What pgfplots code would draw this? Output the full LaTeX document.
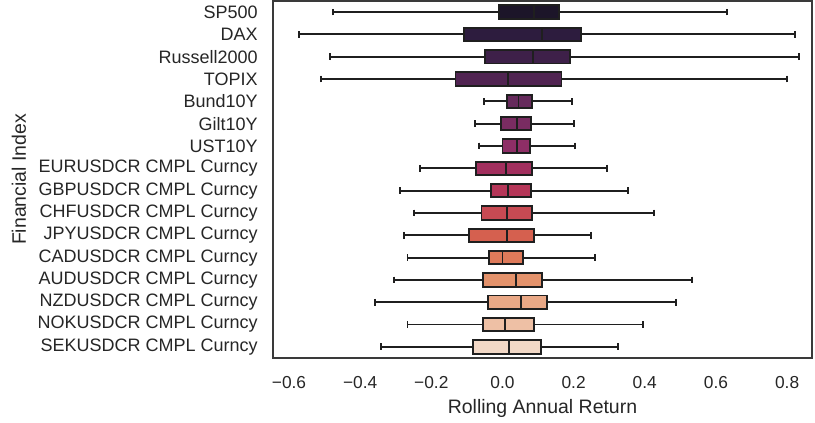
\documentclass[border=0pt]{standalone}
\usepackage{pgfplots}
\pgfplotsset{compat=1.18}
\usepgfplotslibrary{statistics}
\usepackage{fontspec}
\setmainfont{Liberation Sans}
\definecolor{txt}{HTML}{262626}
\definecolor{spine}{HTML}{3a3a3a}
\definecolor{c0}{HTML}{1c1529}
\definecolor{c1}{HTML}{2d1c3e}
\definecolor{c2}{HTML}{3e2049}
\definecolor{c3}{HTML}{512452}
\definecolor{c4}{HTML}{662a5c}
\definecolor{c5}{HTML}{7a2c62}
\definecolor{c6}{HTML}{8e2e66}
\definecolor{c7}{HTML}{a22f5e}
\definecolor{c8}{HTML}{b53658}
\definecolor{c9}{HTML}{c74a53}
\definecolor{c10}{HTML}{d5604f}
\definecolor{c11}{HTML}{de7a5a}
\definecolor{c12}{HTML}{e3926b}
\definecolor{c13}{HTML}{e9a886}
\definecolor{c14}{HTML}{eec0a5}
\definecolor{c15}{HTML}{f2d8c6}
% \bx{position}{colour}{lower whisker}{Q1}{median}{Q3}{upper whisker}
\newcommand{\bx}[7]{%
  \addplot[draw=black!88, fill=#2, line width=1.45pt,
    boxplot prepared={draw position=#1, lower whisker=#3, lower quartile=#4,
      median=#5, upper quartile=#6, upper whisker=#7}] coordinates {};}
\begin{document}
\begin{tikzpicture}
\begin{axis}[
  scale only axis, width=404.25pt, height=267.75pt,
  xmin=-0.645, xmax=0.870, ymin=-0.5, ymax=15.5, y dir=reverse,
  boxplot/box extend=0.6, boxplot/whisker extend=0.3,
  xtick={-0.6,-0.4,-0.2,0,0.2,0.4,0.6,0.8},
  xticklabels={−0.6,−0.4,−0.2,0.0,0.2,0.4,0.6,0.8},
  ytick={0,...,15},
  yticklabels={SP500,DAX,Russell2000,TOPIX,Bund10Y,Gilt10Y,UST10Y,
    EURUSDCR CMPL Curncy,GBPUSDCR CMPL Curncy,CHFUSDCR CMPL Curncy,
    JPYUSDCR CMPL Curncy,CADUSDCR CMPL Curncy,AUDUSDCR CMPL Curncy,
    NZDUSDCR CMPL Curncy,NOKUSDCR CMPL Curncy,SEKUSDCR CMPL Curncy},
  major tick length=0,
  tick label style={text=txt},
  xticklabel style={font=\fontsize{13}{15}\selectfont, yshift=-10pt},
  yticklabel style={font=\fontsize{13.5}{15}\selectfont, xshift=-8pt},
  xlabel={Rolling Annual Return}, ylabel={Financial Index},
  label style={font=\fontsize{14.6}{16}\selectfont, text=txt},
  xlabel style={at={([yshift=-37.5pt]axis description cs:0.5,0)}, anchor=center},
  ylabel style={at={([xshift=-190.5pt]axis description cs:0,0.5)}, anchor=center},
  axis line style={draw=spine, line width=1.1pt},
]
\bx{0}{c0}{-0.477}{-0.010}{0.089}{0.158}{0.630}
\bx{1}{c1}{-0.573}{-0.109}{0.112}{0.221}{0.822}
\bx{2}{c2}{-0.484}{-0.048}{0.086}{0.190}{0.833}
\bx{3}{c3}{-0.511}{-0.132}{0.016}{0.166}{0.799}
\bx{4}{c4}{-0.051}{0.014}{0.045}{0.084}{0.196}
\bx{5}{c5}{-0.078}{-0.003}{0.040}{0.080}{0.200}
\bx{6}{c6}{-0.065}{0.000}{0.042}{0.077}{0.203}
\bx{7}{c7}{-0.233}{-0.075}{0.010}{0.083}{0.295}
\bx{8}{c8}{-0.288}{-0.032}{0.016}{0.080}{0.352}
\bx{9}{c9}{-0.248}{-0.059}{0.014}{0.083}{0.425}
\bx{10}{c10}{-0.278}{-0.095}{0.013}{0.089}{0.250}
\bx{11}{c11}{-0.267}{-0.039}{0.000}{0.057}{0.259}
\bx{12}{c12}{-0.304}{-0.056}{0.037}{0.110}{0.533}
\bx{13}{c13}{-0.358}{-0.040}{0.051}{0.126}{0.488}
\bx{14}{c14}{-0.267}{-0.056}{0.006}{0.089}{0.395}
\bx{15}{c15}{-0.341}{-0.083}{0.019}{0.107}{0.325}
\end{axis}
\pgfresetboundingbox
\path (-204.75pt,-48.75pt) rectangle (406.5pt,268.5pt);
\end{tikzpicture}
\end{document}
